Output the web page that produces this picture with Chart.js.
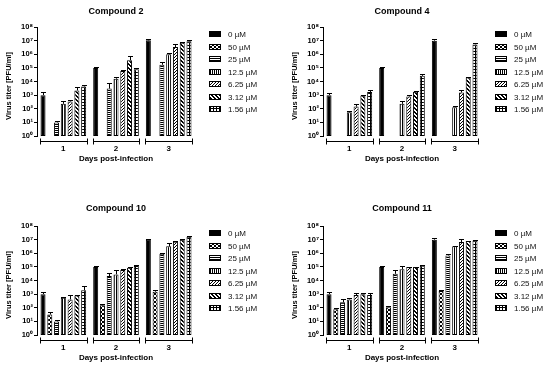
<!DOCTYPE html>
<html>
<head>
<meta charset="utf-8">
<script src="https://cdn.jsdelivr.net/npm/chart.js@4.4.1/dist/chart.umd.min.js"></script>
<style>
  html, body { margin: 0; padding: 0; background: #fff; overflow: hidden; }
  body { width: 550px; height: 368px; position: relative; }
  canvas { position: absolute; }
</style>
</head>
<body>
<canvas id="cmp2" width="264" height="168" style="left:0;top:0"></canvas>
<canvas id="cmp4" width="264" height="168" style="left:286px;top:0"></canvas>
<canvas id="cmp10" width="264" height="168" style="left:0;top:199px"></canvas>
<canvas id="cmp11" width="264" height="168" style="left:286px;top:199px"></canvas>
<script>
    'use strict';

    // Categories and legend
    const days = ['1', '2', '3'];
    const doses = ['0 \u00b5M', '50 \u00b5M', '25 \u00b5M', '12.5 \u00b5M', '6.25 \u00b5M', '3.12 \u00b5M', '1.56 \u00b5M'];
    const yTicks = [1, 1e1, 1e2, 1e3, 1e4, 1e5, 1e6, 1e7, 1e8];
    const yTickLabels = ['10\u2070', '10\u00b9', '10\u00b2', '10\u00b3', '10\u2074', '10\u2075', '10\u2076', '10\u2077', '10\u2078'];

    // Mean titers, one row per dose (day 1, 2, 3)
    const cmp2Mean = [
        [1000, 1e5, 1.05e7],
        [null, null, null],
        [10, 3000, 1.7e5],
        [230, 16000, 1e6],
        [340, 58000, 3.4e6],
        [2200, 3.7e5, 7e6],
        [4300, 8e4, 9e6]
    ];
    // Upper end of the error bars
    const cmp2Upper = [
        [1600, 1.1e5, 1.3e7],
        [null, null, null],
        [13, 7500, 2.6e5],
        [380, 23000, 1.2e6],
        [450, 68000, 5.6e6],
        [3800, 7.8e5, 7.9e6],
        [6000, 9.6e4, 1.05e7]
    ];

    const cmp4Mean = [
        [1000, 1e5, 1e7],
        [null, null, null],
        [null, null, null],
        [55, 230, 130],
        [145, 790, 1550],
        [930, 1800, 20000],
        [1700, 26000, 5.3e6]
    ];
    const cmp4Upper = [
        [1500, 1.1e5, 1.25e7],
        [null, null, null],
        [null, null, null],
        [70, 380, 150],
        [230, 1100, 2300],
        [1050, 1900, 22000],
        [2500, 36000, 7e6]
    ];

    const cmp10Mean = [
        [1000, 1e5, 1e7],
        [32, 150, 1500],
        [10, 21000, 9e5],
        [550, 28000, 3.2e6],
        [410, 59000, 7e6],
        [800, 87000, 1e7],
        [1900, 1.15e5, 1.6e7]
    ];
    const cmp10Upper = [
        [1450, 1.1e5, 1.2e7],
        [48, 180, 1900],
        [12, 36000, 1e6],
        [650, 62000, 6e6],
        [800, 70000, 8e6],
        [850, 1e5, 1.1e7],
        [4000, 1.35e5, 2e7]
    ];

    const cmp11Mean = [
        [1000, 1e5, 1e7],
        [76, 110, 1700],
        [250, 31000, 6.9e5],
        [410, 66000, 3.2e6],
        [860, 97000, 6.6e6],
        [1000, 97000, 7.9e6],
        [850, 1.2e5, 8.8e6]
    ];
    const cmp11Upper = [
        [1450, 1.1e5, 1.25e7],
        [90, 135, 1900],
        [420, 60000, 9e5],
        [480, 1.2e5, 3.5e6],
        [1200, 1.05e5, 1.2e7],
        [1200, 1e5, 8.5e6],
        [1200, 1.35e5, 9.5e6]
    ];

    const FONT = '"Liberation Sans", Arial, sans-serif';

    /**
     * Small black/white fill patterns like the GraphPad bars
     */
    function makePattern(kind) {
        const sizes = { check: 4, h: 2, v: 2, d1: 3, d2: 4, grid: 3 };
        const n = sizes[kind];
        const c = document.createElement('canvas');
        c.width = c.height = n;
        const g = c.getContext('2d');
        g.fillStyle = '#fff';
        g.fillRect(0, 0, n, n);
        g.fillStyle = '#000';
        for (let y = 0; y < n; y++) {
            for (let x = 0; x < n; x++) {
                let on = false;
                switch (kind) {
                    case 'check': on = ((x >> 1) + (y >> 1)) % 2 === 0; break;
                    case 'h': on = y % 2 === 0; break;
                    case 'v': on = x % 2 === 0; break;
                    case 'd1': on = (x + y) % 3 === 0; break;
                    case 'd2': on = (x - y + 8) % 4 < 2; break;
                    case 'grid': on = x % 3 === 0 || y % 3 === 0; break;
                }
                if (on) g.fillRect(x, y, 1, 1);
            }
        }
        return g.createPattern(c, 'repeat');
    }

    const fills = [
        '#000',
        makePattern('check'),
        makePattern('h'),
        makePattern('v'),
        makePattern('d1'),
        makePattern('d2'),
        makePattern('grid')
    ];

    // Up-only error bars with caps
    const errorBars = {
        id: 'errorBars',
        afterDatasetsDraw(chart) {
            const ctx = chart.ctx;
            const yScale = chart.scales.y;
            ctx.save();
            ctx.strokeStyle = '#000';
            ctx.lineWidth = 1;
            chart.data.datasets.forEach((ds, i) => {
                const meta = chart.getDatasetMeta(i);
                meta.data.forEach((bar, j) => {
                    const hi = ds.upper[j];
                    if (ds.data[j] == null || hi == null) return;
                    const yTop = Math.round(yScale.getPixelForValue(hi)) + 0.5;
                    const x = Math.round(bar.x) + 0.5;
                    const w = bar.width / 2;
                    ctx.beginPath();
                    ctx.moveTo(x, bar.y);
                    ctx.lineTo(x, yTop);
                    ctx.moveTo(x - w, yTop);
                    ctx.lineTo(x + w, yTop);
                    ctx.stroke();
                });
            });
            ctx.restore();
        }
    };

    // Brackets under each day, titles and legend
    const decorations = {
        id: 'decorations',
        afterDraw(chart) {
            const ctx = chart.ctx;
            const area = chart.chartArea;
            const xScale = chart.scales.x;
            const step = xScale.getPixelForValue(1) - xScale.getPixelForValue(0);
            ctx.save();
            ctx.strokeStyle = '#000';
            ctx.lineWidth = 1;
            const by = Math.round(area.bottom + 5) + 0.5;
            days.forEach((d, i) => {
                const c = xScale.getPixelForValue(i);
                const x0 = Math.round(c - step / 2 + 3) + 0.5;
                const x1 = Math.round(c + step / 2 - 3) + 0.5;
                ctx.beginPath();
                ctx.moveTo(x0, by);
                ctx.lineTo(x1, by);
                ctx.moveTo(x0, by - 3);
                ctx.lineTo(x0, by + 3);
                ctx.moveTo(x1, by - 3);
                ctx.lineTo(x1, by + 3);
                ctx.stroke();
            });

            // panel title
            const opts = chart.options.plugins;
            ctx.fillStyle = '#000';
            ctx.font = 'bold 9px ' + FONT;
            ctx.textAlign = 'center';
            ctx.textBaseline = 'middle';
            ctx.fillText(opts.panelTitle, (area.left + area.right) / 2, opts.panelTitleY);

            // y axis title
            ctx.save();
            ctx.translate(9, 86);
            ctx.rotate(-Math.PI / 2);
            ctx.font = 'bold 7.5px ' + FONT;
            ctx.fillText('Virus titer [PFU/ml]', 0, 0);
            ctx.restore();

            // legend
            ctx.font = '8px ' + FONT;
            ctx.textAlign = 'left';
            chart.data.datasets.forEach((ds, i) => {
                const y = Math.round(34 + i * 12.5);
                ctx.fillStyle = ds.backgroundColor;
                ctx.fillRect(209, y - 3, 12, 6);
                ctx.strokeRect(209.5, y - 2.5, 11, 5);
                ctx.fillStyle = '#111';
                ctx.fillText(ds.label, 228, y + 0.5);
            });
            ctx.restore();
        }
    };

    function buildChart(id, title, titleY, means, uppers) {
        const ctx = document.getElementById(id);
        return new Chart(ctx, {
            type: 'bar',
            data: {
                labels: days,
                datasets: doses.map((label, i) => ({
                    label: label,
                    data: means[i],
                    upper: uppers[i],
                    backgroundColor: fills[i],
                    borderColor: '#000',
                    borderWidth: 1,
                    borderSkipped: false,
                    categoryPercentage: 0.9,
                    barPercentage: 0.74
                }))
            },
            options: {
                responsive: false,
                animation: false,
                devicePixelRatio: 1,
                layout: {
                    padding: { top: 27, right: 69, bottom: 2, left: 0 }
                },
                plugins: {
                    legend: { display: false },
                    tooltip: { enabled: false },
                    panelTitle: title,
                    panelTitleY: titleY
                },
                scales: {
                    x: {
                        type: 'category',
                        grid: { display: false, drawTicks: false },
                        border: { display: false },
                        ticks: {
                            padding: 8,
                            color: '#000',
                            font: { family: FONT, size: 8, weight: 'bold' }
                        },
                        title: {
                            display: true,
                            text: 'Days post-infection',
                            color: '#000',
                            padding: { top: 0, bottom: 2 },
                            font: { family: FONT, size: 8, weight: 'bold' }
                        },
                        afterFit(scale) {
                            scale.height = 30;
                        }
                    },
                    y: {
                        type: 'logarithmic',
                        min: 1,
                        max: 1e8,
                        grid: {
                            display: true,
                            drawOnChartArea: false,
                            drawTicks: true,
                            tickLength: 3,
                            color: '#000'
                        },
                        border: { display: true, color: '#000', width: 1 },
                        ticks: {
                            autoSkip: false,
                            padding: 1,
                            color: '#000',
                            font: { family: FONT, size: 7.5, weight: 'bold' },
                            callback: (v) => yTickLabels[yTicks.indexOf(v)]
                        },
                        afterBuildTicks(scale) {
                            scale.ticks = yTicks.map(v => ({ value: v }));
                        },
                        afterFit(scale) {
                            scale.width = 37;
                        }
                    }
                }
            },
            plugins: [errorBars, decorations]
        });
    }

    buildChart('cmp2', 'Compound 2', 12, cmp2Mean, cmp2Upper);
    buildChart('cmp4', 'Compound 4', 12, cmp4Mean, cmp4Upper);
    buildChart('cmp10', 'Compound 10', 10, cmp10Mean, cmp10Upper);
    buildChart('cmp11', 'Compound 11', 10, cmp11Mean, cmp11Upper);
</script>
</body>
</html>
